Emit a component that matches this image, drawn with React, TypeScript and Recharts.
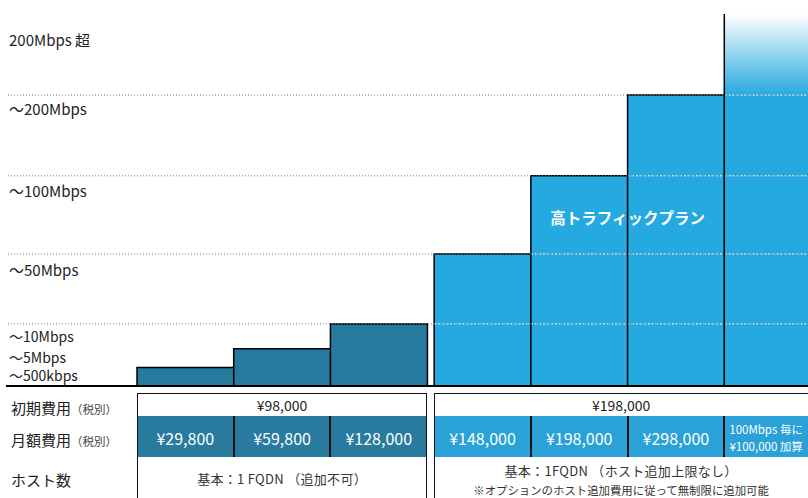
import React from 'react';
import { ComposedChart, Bar, XAxis, YAxis, ReferenceLine } from 'recharts';

// ---------- data ----------
const planIds = ['p1', 'p2', 'p3', 'p4', 'p5', 'p6', 'p7'];
const planGroup = [0, 0, 0, 1, 1, 1, 1];
const tierLabels = ['〜500kbps', '〜5Mbps', '〜10Mbps', '〜50Mbps', '〜100Mbps', '〜200Mbps', '200Mbps 超'];
const tierLevels = [5, 10, 16.7, 35.5, 56.5, 78.2, 100];
const gridLevels = [16.7, 35.5, 56.5, 78.2];
const initialFees = ['¥98,000', '¥198,000'];
const monthlyFees = ['¥29,800', '¥59,800', '¥128,000', '¥148,000', '¥198,000', '¥298,000', '100Mbps 毎に\n¥100,000 加算'];
const hostNotes = [
  ['基本：1 FQDN （追加不可）'],
  ['基本：1FQDN （ホスト追加上限なし）', '※オプションのホスト追加費用に従って無制限に追加可能'],
];
const rowLabels = [
  ['初期費用', '（税別）'],
  ['月額費用', '（税別）'],
  ['ホスト数', ''],
];
const highPlanName = '高トラフィックプラン';

const rows = planIds.map((id, i) => ({ id, level: tierLevels[i] }));

// ---------- layout / style ----------
const W = 808;
const H = 498;
const PLOT_LEFT = 137;
const CHART_W = 814;
const BAND = (CHART_W - PLOT_LEFT) / planIds.length;
const GAP = 7;
const TOP = 14;
const BASE = 386;
const DARK = '#267a9e';
const LIGHT = '#24a9e0';
const DARK_CELL = '#287b9f';
const LIGHT_CELL = '#2aa2d8';
const INK = '#222';
const FONT = "'Noto Sans CJK JP', 'Noto Sans', sans-serif";
const tickOffsets = [14, 14, 18, 22, 21, 20, 32];
const tickSizes = [14, 14, 14, 15, 15, 15, 15];

const colLeft = (i: number) => PLOT_LEFT + i * BAND + (planGroup[i] === 1 ? GAP : 0);
const groupCols = (g: number) => planIds.map((_, i) => i).filter((i) => planGroup[i] === g);
const groupLeft = (g: number) => colLeft(groupCols(g)[0]);
const groupRight = (g: number) => {
  const c = groupCols(g);
  return colLeft(c[c.length - 1]) + BAND;
};

const PlanBar = (props: any) => {
  const { x, y, width, height, payload } = props;
  const index = planIds.indexOf(payload.id);
  const g = planGroup[index];
  const left = x + (g === 1 ? GAP : 0);
  const bottom = y + height;
  const lvl = payload.level;
  const pxPerUnit = height / lvl;
  const isOpen = index === planIds.length - 1;
  const fill = g === 0 ? DARK : isOpen ? 'url(#openGrad)' : LIGHT;
  const outline = isOpen
    ? `M${left},${bottom} L${left},${y}`
    : `M${left},${bottom} L${left},${y} L${left + width},${y} L${left + width},${bottom}`;
  return (
    <g>
      {isOpen && (
        <defs>
          <linearGradient id="openGrad" x1="0" y1="0" x2="0" y2="1">
            <stop offset="0" stopColor="#ffffff" />
            <stop offset="0.22" stopColor={LIGHT} />
            <stop offset="1" stopColor={LIGHT} />
          </linearGradient>
        </defs>
      )}
      <rect x={left} y={y} width={width} height={height} fill={fill} />
      {gridLevels
        .filter((gl) => gl < lvl - 0.01)
        .map((gl) => {
          const yy = bottom - gl * pxPerUnit;
          return (
            <line key={gl} x1={left} x2={left + width} y1={yy} y2={yy} stroke="#ffffff" strokeWidth={1} strokeDasharray="2.5 1.5" />
          );
        })}
      <path d={outline} fill="none" stroke="#000" strokeWidth={1.5} />
    </g>
  );
};

const TierTick = (props: any) => {
  const { y, payload } = props;
  const i = tierLevels.indexOf(payload.value);
  if (i < 0) return null;
  return (
    <text x={9} y={y + tickOffsets[i]} fontSize={tickSizes[i]} fill={INK} textAnchor="start" fontFamily={FONT}>
      {tierLabels[i]}
    </text>
  );
};

const GridLine = (props: any) => (
  <line x1={8} y1={props.y1} x2={props.x2} y2={props.y2} stroke="#7a7a7a" strokeWidth={1} strokeDasharray="1 2" />
);

const BaseLine = (props: any) => (
  <line x1={6} y1={props.y1} x2={props.x2} y2={props.y2} stroke="#000" strokeWidth={1.8} />
);

const abs = (s: React.CSSProperties): React.CSSProperties => ({ position: 'absolute', boxSizing: 'border-box', ...s });

function Table() {
  const R1 = 393, R2 = 416, R3 = 457;
  const els: React.ReactNode[] = [];
  const labelCenters = [406.5, 438.5, 478.5];
  rowLabels.forEach(([main, sub], r) => {
    els.push(
      <div key={'lab' + r} style={abs({ left: 11, top: labelCenters[r] - 11, height: 22, lineHeight: '22px', whiteSpace: 'nowrap', color: INK })}>
        <span style={{ fontSize: 15 }}>{main}</span>
        <span style={{ fontSize: 11.5, color: '#444' }}>{sub}</span>
      </div>
    );
  });
  // centres of host-note lines: single line, or two lines
  const noteCenters = [[479], [471, 489.5]];
  const noteSizes = [13, 11.4];
  [0, 1].forEach((g) => {
    const gl = groupLeft(g);
    const gr = groupRight(g);
    const visR = Math.min(gr, W);
    els.push(
      <div key={'r1' + g} style={abs({ left: gl, top: R1, width: gr - gl, height: R2 - R1 + 1, border: '1.5px solid #111' })} />
    );
    els.push(
      <div key={'r1t' + g} style={abs({ left: gl, top: R1, width: visR - gl, height: R2 - R1, display: 'flex', alignItems: 'center', justifyContent: 'center', fontSize: 14, color: INK })}>
        {initialFees[g]}
      </div>
    );
    groupCols(g).forEach((i) => {
      const cl = colLeft(i);
      const cr = cl + BAND;
      const vr = Math.min(cr, W);
      const multi = monthlyFees[i].includes('\n');
      els.push(
        <div key={'r2' + i} style={abs({ left: cl, top: R2, width: BAND, height: R3 - R2, background: g === 0 ? DARK_CELL : LIGHT_CELL, borderLeft: '1.5px solid #111', borderRight: '1.5px solid #111' })} />
      );
      els.push(
        <div key={'r2t' + i} style={abs({ left: cl, top: R2 + 1, width: vr - cl, height: R3 - R2, display: 'flex', flexDirection: 'column', alignItems: 'center', justifyContent: 'center', color: '#fff', fontSize: multi ? 11.5 : 16, lineHeight: multi ? '17px' : '20px', whiteSpace: 'nowrap' })}>
          {monthlyFees[i].split('\n').map((t, k) => (
            <div key={k}>{t}</div>
          ))}
        </div>
      );
    });
    els.push(
      <div key={'r3' + g} style={abs({ left: gl, top: R3, width: gr - gl, height: H - R3 + 2, borderLeft: '1.5px solid #111', borderRight: '1.5px solid #111' })} />
    );
    hostNotes[g].forEach((t, k) => {
      const c = noteCenters[g][k];
      const fs = noteSizes[k];
      els.push(
        <div key={'r3t' + g + k} style={abs({ left: gl, top: c - 8, width: visR - gl, height: 16, lineHeight: '16px', textAlign: 'center', color: '#333', whiteSpace: 'nowrap', fontSize: fs, letterSpacing: k === 0 ? '0.3px' : 0 })}>
          {t}
        </div>
      );
    });
  });
  return <>{els}</>;
}

export default function App() {
  const highX = colLeft(5);
  return (
    <div style={{ position: 'absolute', left: 0, top: 0, width: W, height: H, overflow: 'hidden', background: '#fff', fontFamily: FONT }}>
      <div style={{ position: 'absolute', left: 0, top: 0 }}>
        <ComposedChart width={CHART_W} height={BASE + 14} data={rows} margin={{ top: TOP, right: 0, bottom: 14, left: 0 }} barCategoryGap={0} barGap={0}>
          <XAxis dataKey="id" type="category" hide />
          <YAxis
            type="number"
            domain={[0, 100]}
            ticks={tierLevels}
            interval={0}
            width={PLOT_LEFT}
            axisLine={false}
            tickLine={false}
            tick={<TierTick />}
          />
          <Bar dataKey="level" isAnimationActive={false} shape={PlanBar} />
          {gridLevels.map((v) => (
            <ReferenceLine key={v} y={v} shape={GridLine} />
          ))}
          <ReferenceLine y={0} shape={BaseLine} />
        </ComposedChart>
      </div>
      <div style={abs({ left: highX - 100, top: 205, width: 200, height: 24, lineHeight: '24px', textAlign: 'center', color: '#fff', fontWeight: 700, fontSize: 15.5 })}>
        {highPlanName}
      </div>
      <Table />
    </div>
  );
}
